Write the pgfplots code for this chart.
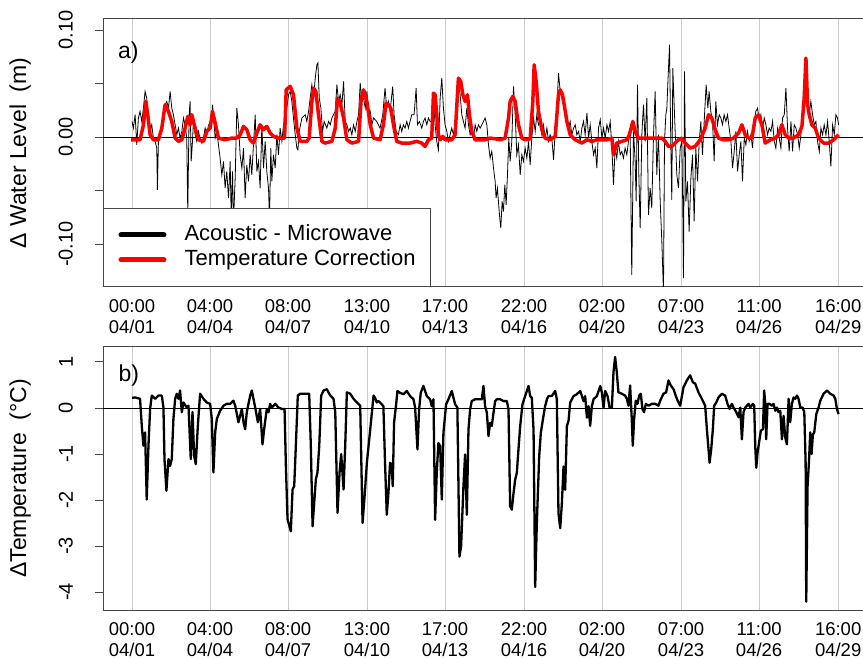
\documentclass[border=0pt]{standalone}
\usepackage{fontspec}
\setmainfont{Liberation Sans}
\usepackage{pgfplots}
\pgfplotsset{compat=1.18}
\definecolor{gridgray}{RGB}{205,205,205}
\definecolor{framegray}{RGB}{70,70,70}
\pgfplotsset{
  panel/.style={
    scale only axis, width=768bp,
    xmin=-28.3, xmax=720,
    axis line style={framegray, line width=1bp},
    xtick={0,76,152,229,305,382,458,535,611,688},
    xticklabels={{00:00\\04/01},{04:00\\04/04},{08:00\\04/07},{13:00\\04/10},{17:00\\04/13},{22:00\\04/16},{02:00\\04/20},{07:00\\04/23},{11:00\\04/26},{16:00\\04/29}},
    xticklabel style={align=center, font=\fontsize{18.5bp}{21.5bp}\selectfont, inner sep=0pt, anchor=north},
    xticklabel shift=4bp,
    xmajorgrids, major grid style={gridgray, line width=1bp},
    xtick style={draw=none},
    ytick pos=left, tick align=outside, major tick length=8bp,
    ytick style={framegray, line width=1bp},
    yticklabel style={rotate=90, anchor=south, inner sep=0pt, font=\fontsize{20bp}{24bp}\selectfont},
    yticklabel shift=22bp,
    ylabel style={at={(axis description cs:-0.108,0.5)}, anchor=center, font=\fontsize{23bp}{27bp}\selectfont},
  }
}
\begin{document}
\begin{tikzpicture}
\path[use as bounding box] (0,0) rectangle (863bp,659bp);
% ---------------- top panel ----------------
\begin{axis}[panel, at={(103bp,372bp)}, anchor=south west, height=268bp,
  ymin=-0.140, ymax=0.1103,
  ytick={-0.10,-0.05,0,0.05,0.10}, yticklabels={-0.10,,0.00,,0.10},
  ylabel={Δ Water Level\ \ (m)},
  legend style={at={(axis description cs:0,0)}, anchor=south west, draw=framegray, line width=1bp, fill=white,
    inner xsep=15bp, inner ysep=16bp, font=\fontsize{22bp}{26bp}\selectfont,
    nodes={inner sep=0pt, text height=16bp, text depth=5bp}, row sep=4bp,
    /tikz/every odd column/.append style={column sep=18bp}},
  legend cell align=left,
  legend image code/.code={\draw[#1, line cap=round] (0bp,0bp) -- (43bp,0bp);},
]
\addplot[black, line width=0.8bp, forget plot] coordinates {(-28.3,0) (720,0)};
\addplot[black, line width=0.8bp, forget plot] coordinates {
(0,0.0146) (1.3,0.0084) (3.0,0.0209) (4.6,-0.0072) (6.2,0.0178) (7.8,0.0240) (9.5,0.0146) (11.1,0.0271) (12.7,0.0427) (14.3,0.0364) (16.0,0.0178) (17.6,0.0053) (19.2,0.0115) (20.8,-0.0009) (22.5,-0.0040) (24.1,-0.0103) (24.7,-0.0492) (25.7,-0.0040) (27.3,0.0022) (29.0,0.0084) (30.6,0.0209) (32.2,0.0302) (33.8,0.0333) (35.5,0.0271) (37.1,0.0427) (38.7,0.0271) (40.3,0.0209) (42.0,0.0115) (43.6,0.0022) (45.2,0.0084) (46.8,-0.0009) (48.5,0.0053) (50.1,0.0178) (51.7,0.0115) (53.3,-0.0009) (54.3,-0.0700) (55.6,0.0209) (56.6,0.0333) (57.6,-0.0227) (58.9,-0.0040) (59.8,0.0146) (61.5,0.0022) (63.1,-0.0040) (64.7,0.0053) (66.3,-0.0009) (68.0,-0.0056) (69.6,-0.0009) (71.2,0.0084) (72.8,0.0022) (74.5,0.0115) (77.1,0.0115) (78.4,0.0302) (79.3,0.0209) (81.0,-0.0009) (82.6,0.0053) (84.2,-0.0072) (85.8,-0.0196) (87.5,-0.0352) (89.1,-0.0227) (90.7,-0.0477) (92.3,-0.0321) (94.0,-0.0570) (95.6,-0.0227) (96.6,-0.0750) (97.9,-0.0321) (98.8,-0.0800) (100.5,-0.0383) (102.1,0.0271) (103.7,0.0115) (105.3,-0.0165) (107.0,-0.0290) (108.6,-0.0103) (110.2,-0.0570) (111.8,-0.0259) (113.5,-0.0414) (115.1,-0.0165) (116.7,-0.0352) (118.3,-0.0072) (120.0,0.0209) (121.6,-0.0321) (123.2,-0.0227) (124.8,-0.0477) (126.5,0.0115) (128.1,-0.0290) (129.7,-0.0040) (131.3,-0.0321) (133.0,-0.0477) (133.9,-0.0780) (135.2,-0.0103) (136.2,-0.0414) (137.8,-0.0165) (139.5,-0.0290) (141.1,0.0022) (142.7,-0.0165) (144.3,0.0084) (146.0,-0.0040) (147.6,0.0115) (149.2,0.0178) (150.8,0.0271) (152.5,0.0396) (154.1,0.0427) (155.7,0.0333) (157.3,0.0178) (159.0,0.0022) (160.6,-0.0103) (161.6,-0.0118) (162.9,0.0053) (165.5,0.0178) (168.7,0.0209) (170.3,0.0146) (172.0,0.0240) (173.6,0.0364) (175.2,0.0489) (176.8,0.0364) (178.5,0.0551) (180.1,0.0676) (181.1,0.0692) (182.4,0.0364) (184.0,0.0271) (185.6,0.0053) (187.2,0.0146) (189.8,0.0084) (191.5,0.0146) (193.1,0.0115) (194.7,0.0178) (196.3,0.0209) (198.0,0.0240) (199.6,0.0489) (201.2,0.0333) (202.8,0.0396) (204.5,0.0302) (206.1,0.0520) (207.7,0.0146) (209.3,0.0115) (211.0,0.0053) (212.6,0.0084) (214.2,0.0022) (215.8,0.0115) (217.5,0.0053) (219.1,0.0146) (220.7,0.0209) (222.3,0.0505) (224.0,0.0333) (225.6,0.0364) (227.2,0.0271) (228.8,0.0427) (230.5,0.0209) (232.1,0.0240) (233.7,0.0115) (235.3,0.0178)
(238.4,0.0146) (241.7,0.0084) (244.3,0.0209) (246.5,0.0458) (248.2,0.0271) (249.8,0.0333) (251.4,0.0240) (254.0,0.0474) (255.3,0.0209) (257.3,0.0053) (259.5,0.0022) (261.2,0.0115) (262.8,0.0053) (264.4,0.0115) (266.0,0.0084) (267.7,0.0146) (269.3,0.0084) (270.9,0.0146) (272.5,0.0209) (274.8,0.0209) (276.8,0.0458) (278.1,0.0115) (280.0,0.0146) (282.3,0.0084) (283.9,0.0146) (285.5,0.0178) (287.2,0.0115) (288.8,0.0178) (290.4,0.0146) (292.0,0.0146) (293.7,0.0333) (295.3,0.0115) (296.9,-0.0040) (298.5,-0.0118) (300.2,0.0364) (301.8,0.0551) (303.4,0.0271) (305.0,0.0115) (306.7,0.0053) (308.3,-0.0040) (309.9,0.0022) (311.5,0.0084) (313.2,0.0022) (314.8,0.0115) (316.4,0.0333) (318.0,0.0489) (319.7,0.0396) (321.3,0.0209) (322.9,0.0146) (324.5,0.0084) (326.2,0.0271) (327.8,0.0115) (329.4,0.0022) (331.0,0.0084) (332.7,-0.0009) (334.3,0.0115) (335.9,0.0053) (337.5,0.0115) (339.2,0.0084) (340.8,0.0115) (342.4,0.0146) (344.0,0.0178) (345.7,0.0115) (347.3,-0.0072) (348.9,-0.0196) (350.5,-0.0134) (352.2,-0.0290) (353.8,-0.0414) (354.7,-0.0570) (356.0,-0.0477) (358.0,-0.0726) (359.3,-0.0850) (360.6,-0.0601) (361.9,-0.0695) (363.2,-0.0445) (364.5,-0.0632) (365.8,-0.0352) (367.1,-0.0009) (368.4,-0.0227) (370.0,-0.0040) (371.7,0.0474) (373.3,0.0209) (374.9,-0.0165) (376.5,-0.0072) (378.2,-0.0352) (379.8,-0.0165) (381.4,-0.0227) (383.0,-0.0103) (384.7,-0.0196) (386.3,-0.0040) (387.9,-0.0259) (389.5,-0.0009) (391.2,0.0178) (392.8,0.0053) (394.4,0.0209) (396.0,0.0115) (397.7,0.0146) (399.3,0.0022) (400.9,0.0115) (402.5,-0.0009) (404.2,0.0084) (405.8,-0.0040) (407.4,0.0022) (409.0,-0.0009) (410.7,-0.0212) (412.3,0.0053) (413.9,0.0240) (415.5,0.0598) (417.2,0.0427) (418.8,0.0364) (420.4,0.0302) (422.0,0.0209) (423.7,0.0115) (425.3,0.0084) (426.9,0.0146) (428.5,0.0022) (430.2,0.0084) (431.8,0.0115) (433.4,0.0022) (435.0,0.0053) (436.7,-0.0040) (438.3,0.0084) (439.9,0.0146) (441.5,0.0022) (443.2,0.0224) (444.8,-0.0009) (446.4,0.0115) (448.0,-0.0040) (449.7,-0.0165) (451.3,-0.0103) (452.9,-0.0290) (454.5,0.0084) (456.2,0.0162) (457.8,-0.0009) (459.4,0.0084) (461.0,-0.0009) (462.7,0.0115) (464.3,0.0053) (465.9,0.0146)
(467.4,-0.0072) (469.1,-0.0445) (470.7,-0.0103) (472.3,-0.0196) (473.9,-0.0040) (475.6,-0.0165) (477.2,-0.0134) (478.8,-0.0196) (480.4,-0.0103) (482.1,-0.0165) (483.7,-0.0040) (485.3,0.0084) (486.9,-0.1287) (488.6,0.0053) (490.2,-0.0227) (491.2,-0.0601) (492.5,0.0489) (493.8,-0.0352) (495.1,-0.0850) (496.7,0.0022) (498.3,0.0302) (499.9,-0.0040) (501.6,0.0364) (503.2,-0.0726) (504.8,-0.0477) (506.4,-0.0664) (508.1,0.0022) (509.7,0.0427) (511.3,-0.0352) (512.9,0.0022) (514.6,-0.0601) (516.2,-0.0975) (517.8,-0.1450) (518.8,-0.0040) (520.1,0.0209) (521.1,0.0271) (522.0,0.0489) (523.7,0.0863) (525.0,-0.0103) (525.9,-0.0586) (526.9,0.0645) (528.2,0.0302) (529.8,-0.0103) (530.8,-0.0352) (532.4,-0.0477) (534.1,-0.0103) (535.7,-0.0040) (536.7,-0.0726) (537.3,-0.1318) (538.3,0.0614) (539.6,-0.0601) (541.2,-0.0414) (542.8,-0.0882) (544.5,-0.0383) (546.1,-0.0165) (547.7,-0.0788) (549.3,-0.0103) (551.0,-0.0414) (552.6,-0.0040) (554.2,0.0146) (555.8,-0.0165) (557.8,0.0209) (559.4,0.0489) (561.0,0.0271) (562.3,0.0427) (563.9,0.0240) (565.6,0.0146) (567.2,-0.0227) (568.8,0.0333) (570.4,0.0115) (572.1,0.0209) (573.7,0.0178) (575.3,0.0115) (576.9,0.0209) (578.6,0.0146) (580.2,0.0209) (581.8,0.0084) (583.5,-0.0040) (585.1,-0.0290) (586.7,-0.0134) (588.3,0.0053) (590.0,-0.0321) (591.6,-0.0165) (593.2,-0.0040) (594.8,-0.0414) (596.5,-0.0009) (598.1,-0.0072) (599.7,0.0053) (601.3,-0.0040) (603.0,0.0022) (604.6,-0.0103) (606.2,0.0146) (607.8,0.0240) (609.5,0.0271) (611.1,0.0146) (612.7,0.0209) (614.3,0.0084) (616.0,0.0178) (617.6,0.0115) (619.2,0.0022) (620.8,0.0084) (622.5,0.0053) (624.1,0.0146) (625.7,-0.0040) (627.3,-0.0103) (629.0,0.0084) (630.6,-0.0009) (632.2,-0.0103) (633.8,0.0178) (635.5,0.0209) (637.1,0.0458) (638.7,0.0084) (640.3,-0.0134) (642.0,0.0146) (643.6,-0.0134) (645.2,0.0115) (646.8,0.0084) (648.5,0.0022) (650.1,-0.0103) (651.7,0.0022) (653.3,0.0178) (655.0,0.0240) (656.6,0.0676) (658.2,0.0364) (659.8,0.0209) (661.4,0.0333) (663.1,0.0209) (664.7,0.0115) (666.3,0.0146) (667.9,-0.0040) (669.6,-0.0134) (671.2,0.0084) (672.8,0.0022) (674.4,0.0115) (676.1,0.0022) (677.7,0.0146) (679.3,-0.0040) (680.9,-0.0274) (682.6,0.0115) (684.2,0.0022) (685.8,0.0209) (687.4,0.0178) (688.4,0.0115)
};
\addplot[red, line width=3.5bp, line join=round, forget plot] coordinates {
(-1,-0.0025) (7.8,-0.0025) (11.1,0.0115) (13.4,0.0333) (15.3,0.0209) (17.6,0.0022) (20.8,-0.0025) (25.7,-0.0025) (29.0,0.0084) (32.2,0.0302) (35.5,0.0240) (38.7,0.0146) (42.0,-0.0009) (45.2,-0.0040) (48.5,-0.0025) (51.7,0.0084) (54.3,0.0193) (56.6,0.0115) (58.2,0.0209) (61.5,0.0084) (64.7,-0.0025) (69.6,-0.0040) (72.8,0.0053) (76.1,0.0084) (78.4,0.0240) (81.0,0.0131) (84.2,-0.0009) (90.7,-0.0025) (97.2,-0.0009) (102.1,-0.0009) (105.3,0.0022) (108.6,0.0100) (111.8,0.0069) (115.1,-0.0025) (118.3,-0.0056) (121.6,0.0037) (124.8,0.0115) (128.1,0.0069) (131.3,0.0100) (134.6,0.0037) (137.8,0.0006) (142.7,-0.0009) (148.6,-0.0009) (150.2,0.0442) (154.1,0.0474) (157.3,0.0396) (160.6,0.0084) (163.8,-0.0040) (170.3,-0.0040) (172.6,-0.0009) (175.2,0.0333) (176.8,0.0458) (179.1,0.0427) (181.7,0.0209) (185.0,-0.0040) (188.2,-0.0056) (194.7,-0.0040) (198.0,0.0084) (200.2,0.0364) (202.8,0.0318) (206.1,0.0178) (209.3,-0.0025) (214.2,-0.0056) (220.7,-0.0040) (223.3,0.0364) (225.6,0.0442) (228.8,0.0333) (232.1,0.0115) (235.3,-0.0009)
(241.7,-0.0025) (244.9,0.0115) (247.5,0.0318) (249.8,0.0302) (252.1,0.0271) (254.7,0.0115) (257.9,-0.0040) (262.8,-0.0056) (270.9,-0.0056) (277.4,-0.0040) (282.3,-0.0056) (285.5,-0.0087) (288.8,-0.0025) (292.0,-0.0009) (293.7,0.0411) (295.3,0.0396) (296.9,0.0209) (298.5,0.0022) (300.2,-0.0025) (302.8,0.0006) (305.0,-0.0025) (311.5,-0.0025) (314.8,0.0022) (318.0,0.0551) (320.3,0.0520) (322.3,0.0396) (324.5,0.0333) (326.8,0.0396) (328.7,0.0209) (331.0,0.0053) (334.3,-0.0025) (344.0,-0.0025) (348.9,-0.0009) (353.8,-0.0016) (358.7,-0.0025) (363.5,-0.0009) (366.8,0.0178) (368.4,0.0333) (371.0,0.0380) (373.3,0.0333) (376.5,0.0115) (379.8,-0.0009) (383.0,-0.0025) (387.9,-0.0016) (390.5,0.0333) (391.8,0.0676) (393.8,0.0520) (396.0,0.0240) (399.3,0.0069) (402.5,-0.0009) (407.4,-0.0025) (412.3,0.0006) (415.5,0.0396) (417.2,0.0442) (419.4,0.0396) (421.1,0.0302) (423.7,0.0146) (426.9,0.0022) (431.8,-0.0025) (438.3,-0.0056) (443.2,-0.0025) (448.0,-0.0040) (452.9,-0.0025) (462.7,-0.0025) (467.5,-0.0009)
(469.1,-0.0165) (472.3,-0.0056) (477.2,-0.0040) (482.1,-0.0025) (484.6,0.0022) (487.9,0.0146) (490.2,0.0053) (493.4,-0.0009) (498.3,-0.0009) (511.3,-0.0009) (516.2,-0.0009) (519.4,-0.0040) (522.7,-0.0087) (525.9,-0.0087) (529.2,-0.0056) (532.4,-0.0025) (535.7,-0.0009) (538.9,-0.0056) (543.8,-0.0103) (548.7,-0.0087) (553.6,-0.0025) (558.4,0.0084) (561.7,0.0209) (564.9,0.0178) (568.2,0.0069) (571.4,-0.0009) (576.3,-0.0025) (581.2,-0.0025) (586.1,-0.0009) (591.0,0.0037) (594.2,0.0115) (597.4,0.0022) (600.7,-0.0009) (604.0,-0.0009) (607.2,0.0178) (610.4,0.0209) (613.7,0.0115) (616.9,-0.0056) (621.8,-0.0025) (626.7,-0.0009) (629.9,0.0022) (633.2,0.0115) (636.4,0.0022) (639.7,-0.0009) (644.6,-0.0009) (649.4,0.0022) (652.7,0.0100) (654.9,0.0364) (656.6,0.0738) (658.2,0.0302) (659.8,0.0209) (662.4,0.0115) (665.7,0.0084) (668.9,-0.0009) (673.8,-0.0056) (678.7,-0.0056) (683.6,-0.0025) (688.4,0.0022)
};
\addlegendimage{black, line width=5bp}
\addlegendentry{Acoustic - Microwave}
\addlegendimage{red, line width=5bp}
\addlegendentry{Temperature Correction}
\node[anchor=west, inner sep=0pt, font=\fontsize{23bp}{27bp}\selectfont] at (rel axis cs:0.0195,0.873) {a)};
\end{axis}
% ---------------- bottom panel ----------------
\begin{axis}[panel, at={(103bp,49bp)}, anchor=south west, height=263bp,
  ymin=-4.39, ymax=1.326,
  ytick={-4,-3,-2,-1,0,1}, yticklabels={-4,-3,-2,-1,0,1},
  ylabel={ΔTemperature\ \ (°C)},
]
\addplot[black, line width=0.8bp] coordinates {(-28.3,0) (720,0)};
\addplot[black, line width=2.3bp, line join=round] coordinates {
(0,0.22) (3.0,0.23) (7.8,0.20) (9.5,-0.39) (11.1,-0.82) (12.7,-0.53) (14.3,-1.99) (16.0,-0.82) (17.6,-0.02) (19.2,0.27) (22.5,0.20) (25.7,0.27) (29.0,0.27) (30.6,0.01) (31.6,-1.11) (33.5,-1.80) (35.5,-1.11) (37.1,-1.26) (38.7,-1.11) (40.3,-0.24) (42.0,0.20) (43.6,0.31) (45.2,0.20) (46.8,0.38) (48.5,-0.09) (50.1,0.12) (53.3,0.01) (55.0,0.05) (57.2,-1.11) (58.9,-0.09) (60.5,-1.04) (62.1,-1.22) (64.1,-0.39) (66.3,0.31) (69.6,0.20) (72.8,0.12) (76.1,0.09) (77.7,-0.24) (79.3,-1.40) (81.0,-0.53) (82.6,-0.24) (85.8,-0.06) (89.1,0.05) (92.3,0.09) (95.6,0.09) (98.8,0.16) (100.5,0.05) (103.7,-0.31) (107.0,-0.02) (108.6,-0.31) (110.2,-0.46) (111.8,-0.09) (115.1,0.27) (116.7,0.38) (118.3,0.20) (120.0,0.01) (122.6,-0.31) (124.8,-0.02) (127.1,-0.79) (129.1,-0.39) (131.3,-0.02) (133.0,-0.09) (134.6,0.09) (136.2,0.01) (139.5,0.09) (142.7,0.01) (146.0,-0.02) (148.6,-0.02) (149.9,-1.26) (151.5,-2.42) (153.4,-2.57) (154.7,-2.68) (156.4,-1.77) (158.0,-1.70) (159.6,-0.82) (161.5,0.27) (163.8,0.31) (172.6,0.31) (174.2,-0.82) (175.9,-2.57) (177.5,-2.06) (179.1,-1.55) (180.7,-1.40) (182.4,-0.82) (184.3,0.27) (186.6,0.38) (189.8,0.41) (193.1,0.27) (196.3,0.20) (198.0,-0.09) (200.2,-2.28) (202.2,-1.40) (203.8,-1.00) (206.1,-1.77) (207.7,-0.82) (209.3,0.34) (212.6,0.31) (215.8,0.20) (219.1,0.12) (222.3,0.05) (224.6,-2.50) (226.6,-1.91) (228.8,-1.19) (232.1,-0.46) (235.3,0.27)
(236.8,0.22) (238.4,0.12) (240.0,0.15) (241.7,0.12) (244.9,0.04) (246.5,-1.19) (248.2,-2.32) (249.8,-1.85) (251.4,-1.19) (253.0,-1.23) (254.0,-1.70) (255.3,-0.32) (257.3,0.08) (258.6,0.37) (261.2,0.33) (264.4,0.30) (267.7,0.37) (270.9,0.26) (274.2,0.19) (275.8,0.01) (278.1,-0.90) (279.7,-0.03) (281.3,0.33) (283.9,0.48) (287.2,0.26) (290.4,0.19) (292.0,0.04) (293.7,0.19) (295.3,-2.43) (296.9,-1.41) (298.5,-0.76) (300.2,-0.83) (301.8,-1.99) (303.4,-0.54) (306.0,0.08) (308.3,0.19) (311.5,0.37) (314.8,0.08) (317.0,0.01) (319.0,-3.23) (320.6,-3.01) (322.9,-1.70) (324.5,-1.01) (326.2,-2.32) (327.8,-0.47) (329.4,-0.03) (331.0,0.15) (334.3,0.19) (337.5,0.19) (340.8,0.19) (342.4,0.48) (344.0,0.04) (345.7,-0.10) (347.3,-0.61) (348.9,-0.32) (350.5,-0.39) (352.2,-0.10) (353.8,0.15) (355.4,0.19) (358.7,0.19) (361.9,0.15) (365.2,0.15) (366.8,-0.03) (368.4,-2.14) (370.0,-2.21) (371.7,-1.85) (373.3,-1.56) (374.9,-1.41) (376.5,-0.90) (378.2,-0.39) (380.4,0.08) (383.0,0.26) (386.3,0.48) (387.9,0.26) (389.5,0.22) (391.2,-0.47) (392.8,-3.89) (394.4,-2.50) (396.7,-1.05) (398.3,-0.54) (400.3,-0.25) (402.5,0.04) (404.2,0.19) (405.8,0.26) (409.0,0.26) (412.3,0.37) (413.9,0.19) (415.5,-2.29) (417.2,-2.61) (418.8,-2.07) (420.4,-1.27) (422.0,-1.78) (423.7,-0.39) (425.3,-0.28) (426.9,0.12) (430.2,0.26) (433.4,0.30) (436.7,0.37) (439.9,0.15) (441.5,0.26) (443.2,-0.21) (444.8,0.04) (446.4,-0.39) (448.0,0.04) (449.7,0.19) (452.9,0.26) (456.2,0.48) (457.8,0.33) (459.4,0.01) (461.0,0.37) (463.3,0.26) (465.3,0.01) (467.5,0.01)
(469.1,0.78) (470.7,1.11) (472.3,0.78) (473.9,0.34) (477.2,0.31) (480.4,0.27) (482.1,0.20) (483.7,0.05) (485.3,0.49) (486.9,-0.24) (487.9,-0.82) (489.2,-0.24) (490.8,0.16) (492.5,0.09) (494.1,0.27) (495.7,0.31) (497.3,-0.02) (498.9,-0.09) (500.6,0.09) (503.2,0.05) (506.4,0.09) (509.7,0.09) (512.9,0.05) (514.6,0.16) (517.8,0.31) (520.4,0.34) (522.7,0.60) (524.9,0.49) (527.6,0.41) (530.8,0.20) (534.1,0.05) (537.3,0.45) (540.6,0.60) (543.8,0.71) (546.4,0.56) (548.7,0.53) (551.9,0.34) (555.2,0.20) (558.4,0.05) (560.1,-0.46) (561.7,-0.90) (562.7,-1.19) (564.3,-0.90) (565.9,-0.46) (567.2,0.05) (569.2,0.12) (571.4,0.23) (574.7,0.31) (577.9,0.27) (580.2,0.09) (582.2,-0.02) (584.4,0.09) (586.1,0.01) (588.7,-0.09) (590.9,-0.20) (592.6,0.01) (594.2,-0.68) (595.8,-0.09) (597.4,0.01) (599.1,0.05) (600.7,0.09) (602.3,0.01) (604.9,0.09) (606.2,0.05) (607.2,-0.82) (608.2,-1.30) (609.5,-0.97) (611.4,-0.68) (612.7,-0.49) (614.7,-0.46) (615.9,0.38) (616.9,0.12) (617.9,-0.68) (619.2,0.09) (621.2,0.09) (623.4,0.05) (625.1,0.09) (626.7,-0.06) (628.3,0.01) (629.9,-0.09) (631.6,-0.06) (633.2,-0.68) (634.8,-0.17) (636.4,-0.64) (638.1,-0.79) (639.7,0.20) (641.3,-0.31) (642.9,0.09) (644.6,0.23) (646.2,0.20) (647.8,0.27) (649.4,0.20) (651.1,0.01) (653.3,0.01) (655.0,-0.09) (656.3,-1.19) (656.9,-4.21) (658.2,-1.70) (659.5,-1.19) (660.8,-0.53) (662.1,-1.00) (663.4,-0.57) (664.7,-0.53) (666.7,-0.13) (668.9,0.01) (670.6,0.16) (673.8,0.31) (677.1,0.38) (680.3,0.31) (683.6,0.27) (685.2,0.20) (686.8,-0.02) (688.4,-0.13)
};
\node[anchor=west, inner sep=0pt, font=\fontsize{23bp}{27bp}\selectfont] at (rel axis cs:0.02,0.89) {b)};
\end{axis}
\end{tikzpicture}
\end{document}
